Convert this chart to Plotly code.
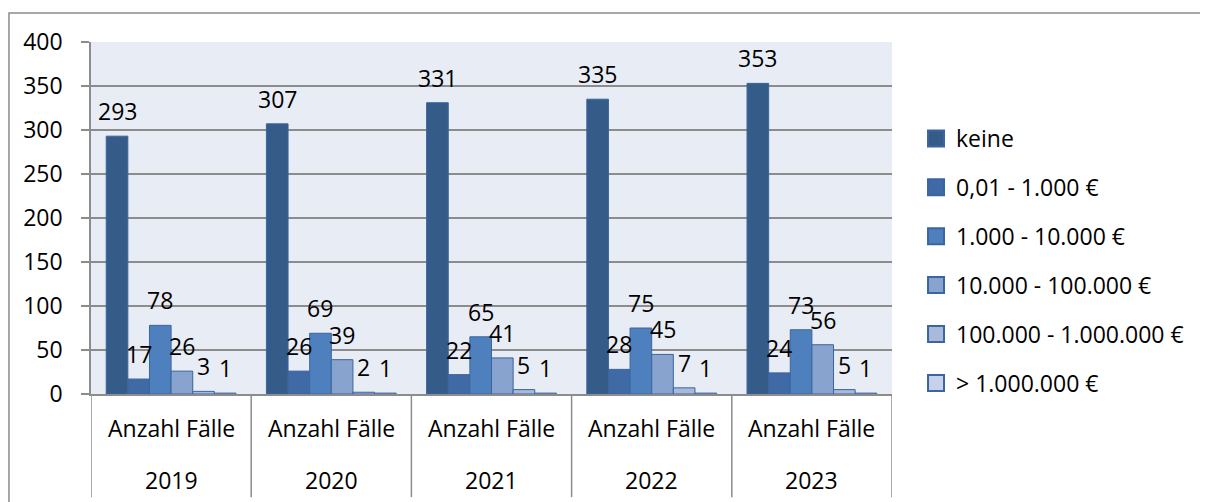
import plotly.graph_objects as go

years = ["2019", "2020", "2021", "2022", "2023"]
category_label = "Anzahl Fälle"
series_names = ["keine", "0,01 - 1.000 €", "1.000 - 10.000 €", "10.000 - 100.000 €",
                "100.000 - 1.000.000 €", "> 1.000.000 €"]
keine = [293, 307, 331, 335, 353]
bis_1000 = [17, 26, 22, 28, 24]
bis_10000 = [78, 69, 65, 75, 73]
bis_100000 = [26, 39, 41, 45, 56]
bis_1mio = [3, 2, 5, 7, 5]
ueber_1mio = [1, 1, 1, 1, 1]
series_values = [keine, bis_1000, bis_10000, bis_100000, bis_1mio, ueber_1mio]
y_ticks = [0, 50, 100, 150, 200, 250, 300, 350, 400]

colors = ["#355B88", "#3F6AA5", "#4F80BE", "#88A3CD", "#A8B9DA", "#C6D2E8"]
border = "#3A65A0"
FONT = "Open Sans"
FS = 23
BARGAP = 0.19

fig = go.Figure()
for name, vals, col in zip(series_names, series_values, colors):
    fig.add_trace(go.Bar(x=years, y=vals, name=name, marker=dict(color=col, line=dict(color=border, width=1)),
                         showlegend=False))
# legend entries
for k, (name, col) in enumerate(zip(series_names, colors)):
    fig.add_trace(go.Scatter(x=[None], y=[None], mode="markers", name=name, legendgroup=f"g{k}",
                             marker=dict(symbol="square", size=16, color=col, line=dict(color=border, width=2))))

annotations = []
nser = len(series_values)
w = (1 - BARGAP) / nser
for i, yr in enumerate(years):
    for j, vals in enumerate(series_values):
        xc = i - (1 - BARGAP) / 2 + (j + 0.5) * w
        annotations.append(dict(x=xc, y=vals[i], xref="x", yref="y", text=str(vals[i]), showarrow=False,
                                yanchor="middle", yshift=25, font=dict(family=FONT, size=FS, color="black")))
    annotations.append(dict(x=i, y=-0.097, xref="x", yref="paper", text=category_label, showarrow=False,
                            yanchor="middle", font=dict(family=FONT, size=FS, color="black")))
    annotations.append(dict(x=i, y=-0.244, xref="x", yref="paper", text=yr, showarrow=False,
                            yanchor="middle", font=dict(family=FONT, size=FS, color="black")))

shapes = []
for k in range(len(years) + 1):
    shapes.append(dict(type="line", xref="x", yref="paper", x0=k - 0.5, x1=k - 0.5, y0=-0.293, y1=0,
                       line=dict(color="#8C8C8C", width=1.5)))
shapes.append(dict(type="rect", xref="paper", yref="paper", x0=-0.1024, x1=1.6, y0=-0.6, y1=1.0824,
                   line=dict(color="#8C8C8C", width=1.5), fillcolor="rgba(0,0,0,0)", layer="below"))

fig.update_layout(
    width=1200, height=494,
    margin=dict(l=83, r=316, t=34, b=108),
    paper_bgcolor="white", plot_bgcolor="#E8ECF4",
    barmode="group", bargap=BARGAP, bargroupgap=0,
    font=dict(family=FONT, size=FS, color="black"),
    annotations=annotations, shapes=shapes,
    legend=dict(x=1.03, y=0.378, xanchor="left", yanchor="middle", traceorder="grouped",
                tracegroupgap=16, font=dict(family=FONT, size=FS), bgcolor="rgba(0,0,0,0)"),
    xaxis=dict(type="category", showticklabels=False, ticks="", showgrid=False, showline=True,
               linecolor="#8C8C8C", linewidth=1.5, range=[-0.5, 4.5]),
    yaxis=dict(range=[0, 400], tickvals=y_ticks, showgrid=True, gridcolor="#8C8C8C", gridwidth=1.5,
               showline=True, linecolor="#8C8C8C", linewidth=1.5, ticks="outside", ticklen=8,
               tickcolor="#8C8C8C", tickwidth=1.5, ticklabelstandoff=14, zeroline=False,
               tickfont=dict(family=FONT, size=FS)),
)

fig.write_html("out.html")
